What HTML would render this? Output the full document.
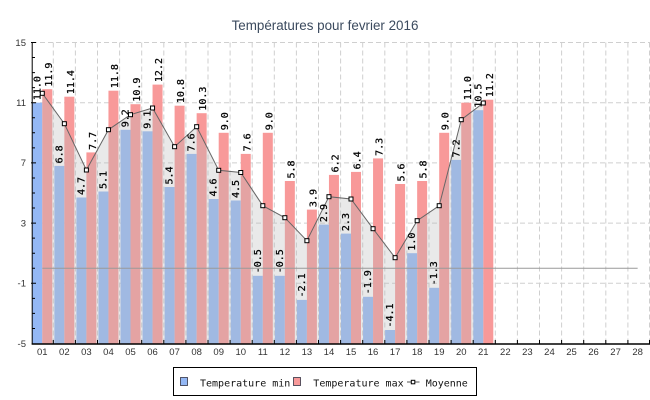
<!DOCTYPE html>
<html><head><meta charset="utf-8"><style>
html,body{margin:0;padding:0;background:#fff;}
svg{display:block;}
.ax{font-family:"Liberation Sans",sans-serif;font-size:9.5px;fill:#333;}
.lb{font-family:"DejaVu Sans Mono","Liberation Mono",monospace;font-size:10px;fill:#000;stroke:#000;stroke-width:0.25;}
.lg{font-family:"DejaVu Sans Mono","Liberation Mono",monospace;font-size:10px;fill:#111;}
</style></head><body>
<svg width="650" height="400" viewBox="0 0 650 400" xmlns="http://www.w3.org/2000/svg">
<rect width="650" height="400" fill="#fff"/>
<text x="325" y="30" text-anchor="middle" font-family="Liberation Sans, sans-serif" font-size="13.4" fill="#3b4a5e">Températures pour fevrier 2016</text>

<!-- grid -->
<g stroke="#cfcfcf" stroke-width="1" stroke-dasharray="5,3" fill="none">
<path d="M32 42.5H650M32 102.7H650M32 162.9H650M32 223.1H650M32 283.3H650"/>
<path d="M53.3 42.5V343.5M75.4 42.5V343.5M97.5 42.5V343.5M119.6 42.5V343.5M141.7 42.5V343.5M163.8 42.5V343.5M185.9 42.5V343.5M208 42.5V343.5M230.1 42.5V343.5M252.2 42.5V343.5M274.3 42.5V343.5M296.4 42.5V343.5M318.5 42.5V343.5M340.6 42.5V343.5M362.7 42.5V343.5M384.8 42.5V343.5M406.9 42.5V343.5M429 42.5V343.5M451.1 42.5V343.5M473.2 42.5V343.5M495.3 42.5V343.5M517.4 42.5V343.5M539.5 42.5V343.5M561.6 42.5V343.5M583.7 42.5V343.5M605.8 42.5V343.5M627.9 42.5V343.5M649.5 42.5V343.5"/>
</g>

<!-- min bars -->
<g fill="#94b8f5">
<rect x="32.3" y="102.7" width="10" height="240.8"/>
<rect x="54.35" y="165.9" width="10" height="177.6"/>
<rect x="76.4" y="197.5" width="10" height="146"/>
<rect x="98.45" y="191.5" width="10" height="152"/>
<rect x="120.5" y="129.8" width="10" height="213.7"/>
<rect x="142.55" y="131.3" width="10" height="212.2"/>
<rect x="164.6" y="187" width="10" height="156.5"/>
<rect x="186.65" y="153.9" width="10" height="189.6"/>
<rect x="208.7" y="199" width="10" height="144.5"/>
<rect x="230.75" y="200.5" width="10" height="143"/>
<rect x="252.8" y="275.8" width="10" height="67.7"/>
<rect x="274.85" y="275.8" width="10" height="67.7"/>
<rect x="296.9" y="299.9" width="10" height="43.6"/>
<rect x="318.95" y="224.6" width="10" height="118.9"/>
<rect x="341" y="233.6" width="10" height="109.9"/>
<rect x="363.05" y="296.8" width="10" height="46.7"/>
<rect x="385.1" y="330" width="10" height="13.5"/>
<rect x="407.15" y="253.2" width="10" height="90.3"/>
<rect x="429.2" y="287.8" width="10" height="55.7"/>
<rect x="451.25" y="159.9" width="10" height="183.6"/>
<rect x="473.3" y="110.2" width="10" height="233.3"/>
</g>
<!-- max bars -->
<g fill="#f89999">
<rect x="42.3" y="89.2" width="10" height="254.3"/>
<rect x="64.35" y="96.7" width="10" height="246.8"/>
<rect x="86.4" y="152.4" width="10" height="191.1"/>
<rect x="108.45" y="90.7" width="10" height="252.8"/>
<rect x="130.5" y="104.2" width="10" height="239.3"/>
<rect x="152.55" y="84.6" width="10" height="258.9"/>
<rect x="174.6" y="105.7" width="10" height="237.8"/>
<rect x="196.65" y="113.2" width="10" height="230.3"/>
<rect x="218.7" y="132.8" width="10" height="210.7"/>
<rect x="240.75" y="153.9" width="10" height="189.6"/>
<rect x="262.8" y="132.8" width="10" height="210.7"/>
<rect x="284.85" y="181" width="10" height="162.5"/>
<rect x="306.9" y="209.6" width="10" height="133.9"/>
<rect x="328.95" y="174.9" width="10" height="168.6"/>
<rect x="351" y="171.9" width="10" height="171.6"/>
<rect x="373.05" y="158.4" width="10" height="185.1"/>
<rect x="395.1" y="184" width="10" height="159.5"/>
<rect x="417.15" y="181" width="10" height="162.5"/>
<rect x="439.2" y="132.8" width="10" height="210.7"/>
<rect x="461.25" y="102.7" width="10" height="240.8"/>
<rect x="483.3" y="99.7" width="10" height="243.8"/>
</g>

<!-- area -->
<polygon fill="rgb(188,188,188)" fill-opacity="0.32" points="42.3,343.5 42.3,93.3 64.35,123.7 86.4,170 108.45,129.7 130.5,114.7 152.55,108 174.6,146.7 196.65,126.7 218.7,170.3 240.75,172.5 262.8,205.7 284.85,217.7 306.9,240.7 328.95,196.7 351,199 373.05,228.7 395.1,257.7 417.15,220.7 439.2,205.7 461.25,119.7 483.3,103 483.3,343.5"/>

<!-- zero line -->
<line x1="42.3" y1="268.25" x2="637.65" y2="268.25" stroke="#999" stroke-width="1"/>

<!-- moyenne line -->
<polyline fill="none" stroke="#666" stroke-width="1" points="42.3,93.3 64.35,123.7 86.4,170 108.45,129.7 130.5,114.7 152.55,108 174.6,146.7 196.65,126.7 218.7,170.3 240.75,172.5 262.8,205.7 284.85,217.7 306.9,240.7 328.95,196.7 351,199 373.05,228.7 395.1,257.7 417.15,220.7 439.2,205.7 461.25,119.7 483.3,103"/>
<g fill="#fff" stroke="#000" stroke-width="1">
<rect x="40.3" y="91.3" width="4" height="4"/>
<rect x="62.35" y="121.7" width="4" height="4"/>
<rect x="84.4" y="168" width="4" height="4"/>
<rect x="106.45" y="127.7" width="4" height="4"/>
<rect x="128.5" y="112.7" width="4" height="4"/>
<rect x="150.55" y="106" width="4" height="4"/>
<rect x="172.6" y="144.7" width="4" height="4"/>
<rect x="194.65" y="124.7" width="4" height="4"/>
<rect x="216.7" y="168.3" width="4" height="4"/>
<rect x="238.75" y="170.5" width="4" height="4"/>
<rect x="260.8" y="203.7" width="4" height="4"/>
<rect x="282.85" y="215.7" width="4" height="4"/>
<rect x="304.9" y="238.7" width="4" height="4"/>
<rect x="326.95" y="194.7" width="4" height="4"/>
<rect x="349" y="197" width="4" height="4"/>
<rect x="371.05" y="226.7" width="4" height="4"/>
<rect x="393.1" y="255.7" width="4" height="4"/>
<rect x="415.15" y="218.7" width="4" height="4"/>
<rect x="437.2" y="203.7" width="4" height="4"/>
<rect x="459.25" y="117.7" width="4" height="4"/>
<rect x="481.3" y="101" width="4" height="4"/>
</g>

<!-- value labels (min) -->
<g class="lb">
<text transform="translate(40.3,100.2) rotate(-90)">11.0</text>
<text transform="translate(62.35,163.4) rotate(-90)">6.8</text>
<text transform="translate(84.4,195) rotate(-90)">4.7</text>
<text transform="translate(106.45,189) rotate(-90)">5.1</text>
<text transform="translate(128.5,127.3) rotate(-90)">9.2</text>
<text transform="translate(150.55,128.8) rotate(-90)">9.1</text>
<text transform="translate(172.6,184.5) rotate(-90)">5.4</text>
<text transform="translate(194.65,151.4) rotate(-90)">7.6</text>
<text transform="translate(216.7,196.5) rotate(-90)">4.6</text>
<text transform="translate(238.75,198) rotate(-90)">4.5</text>
<text transform="translate(260.8,273.3) rotate(-90)">-0.5</text>
<text transform="translate(282.85,273.3) rotate(-90)">-0.5</text>
<text transform="translate(304.9,297.4) rotate(-90)">-2.1</text>
<text transform="translate(326.95,222.1) rotate(-90)">2.9</text>
<text transform="translate(349,231.1) rotate(-90)">2.3</text>
<text transform="translate(371.05,294.3) rotate(-90)">-1.9</text>
<text transform="translate(393.1,327.5) rotate(-90)">-4.1</text>
<text transform="translate(415.15,250.7) rotate(-90)">1.0</text>
<text transform="translate(437.2,285.3) rotate(-90)">-1.3</text>
<text transform="translate(459.25,157.4) rotate(-90)">7.2</text>
<text transform="translate(481.3,107.7) rotate(-90)">10.5</text>
</g>
<!-- value labels (max) -->
<g class="lb">
<text transform="translate(51.8,86.7) rotate(-90)">11.9</text>
<text transform="translate(73.85,94.2) rotate(-90)">11.4</text>
<text transform="translate(95.9,149.9) rotate(-90)">7.7</text>
<text transform="translate(117.95,88.2) rotate(-90)">11.8</text>
<text transform="translate(140,101.7) rotate(-90)">10.9</text>
<text transform="translate(162.05,82.1) rotate(-90)">12.2</text>
<text transform="translate(184.1,103.2) rotate(-90)">10.8</text>
<text transform="translate(206.15,110.7) rotate(-90)">10.3</text>
<text transform="translate(228.2,130.3) rotate(-90)">9.0</text>
<text transform="translate(250.25,151.4) rotate(-90)">7.6</text>
<text transform="translate(272.3,130.3) rotate(-90)">9.0</text>
<text transform="translate(294.35,178.5) rotate(-90)">5.8</text>
<text transform="translate(316.4,207.1) rotate(-90)">3.9</text>
<text transform="translate(338.45,172.4) rotate(-90)">6.2</text>
<text transform="translate(360.5,169.4) rotate(-90)">6.4</text>
<text transform="translate(382.55,155.9) rotate(-90)">7.3</text>
<text transform="translate(404.6,181.5) rotate(-90)">5.6</text>
<text transform="translate(426.65,178.5) rotate(-90)">5.8</text>
<text transform="translate(448.7,130.3) rotate(-90)">9.0</text>
<text transform="translate(470.75,100.2) rotate(-90)">11.0</text>
<text transform="translate(492.8,97.2) rotate(-90)">11.2</text>
</g>

<!-- axes -->
<g stroke="#000" fill="none">
<line x1="32.2" y1="42" x2="32.2" y2="344.5" stroke-width="1"/>
<line x1="31.7" y1="344" x2="650" y2="344" stroke-width="1.5"/>
<path stroke-width="1" d="M32 57.55h3M32 72.6h3M32 87.65h3M32 117.75h3M32 132.8h3M32 147.85h3M32 177.95h3M32 193h3M32 208.05h3M32 238.15h3M32 253.2h3M32 268.25h3M32 298.35h3M32 313.4h3M32 328.45h3"/>
<path stroke-width="1" d="M31 42.5h5M31 102.7h5M31 162.9h5M31 223.1h5M31 283.3h5"/>
<path stroke-width="1" d="M53.3 340V344M75.4 340V344M97.5 340V344M119.6 340V344M141.7 340V344M163.8 340V344M185.9 340V344M208 340V344M230.1 340V344M252.2 340V344M274.3 340V344M296.4 340V344M318.5 340V344M340.6 340V344M362.7 340V344M384.8 340V344M406.9 340V344M429 340V344M451.1 340V344M473.2 340V344M495.3 340V344M517.4 340V344M539.5 340V344M561.6 340V344M583.7 340V344M605.8 340V344M627.9 340V344M649.5 340V344"/>
</g>

<!-- y labels -->
<g class="ax" text-anchor="end" fill="#444">
<text x="26" y="45.8">15</text>
<text x="26" y="106">11</text>
<text x="26" y="166.2">7</text>
<text x="26" y="226.4">3</text>
<text x="26" y="286.6">-1</text>
<text x="26" y="346.8">-5</text>
</g>
<!-- x labels -->
<g class="ax" text-anchor="middle">
<text x="42.3" y="354.8">01</text>
<text x="64.35" y="354.8">02</text>
<text x="86.4" y="354.8">03</text>
<text x="108.45" y="354.8">04</text>
<text x="130.5" y="354.8">05</text>
<text x="152.55" y="354.8">06</text>
<text x="174.6" y="354.8">07</text>
<text x="196.65" y="354.8">08</text>
<text x="218.7" y="354.8">09</text>
<text x="240.75" y="354.8">10</text>
<text x="262.8" y="354.8">11</text>
<text x="284.85" y="354.8">12</text>
<text x="306.9" y="354.8">13</text>
<text x="328.95" y="354.8">14</text>
<text x="351" y="354.8">15</text>
<text x="373.05" y="354.8">16</text>
<text x="395.1" y="354.8">17</text>
<text x="417.15" y="354.8">18</text>
<text x="439.2" y="354.8">19</text>
<text x="461.25" y="354.8">20</text>
<text x="483.3" y="354.8">21</text>
<text x="505.35" y="354.8">22</text>
<text x="527.4" y="354.8">23</text>
<text x="549.45" y="354.8">24</text>
<text x="571.5" y="354.8">25</text>
<text x="593.55" y="354.8">26</text>
<text x="615.6" y="354.8">27</text>
<text x="637.65" y="354.8">28</text>
</g>

<!-- legend -->
<rect x="173.5" y="367.5" width="303" height="28" fill="#fff" stroke="#000" stroke-width="1"/>
<rect x="180.5" y="377.5" width="7" height="8" fill="#94b8f5" stroke="#334" stroke-width="0.8"/>
<text class="lg" x="200" y="386.3">Temperature min</text>
<rect x="293.5" y="377.5" width="7" height="8" fill="#f89999" stroke="#334" stroke-width="0.8"/>
<text class="lg" x="313.3" y="386.3">Temperature max</text>
<line x1="407" y1="382" x2="419.5" y2="382" stroke="#555" stroke-width="1"/>
<rect x="411.3" y="380.3" width="3.5" height="3.5" fill="#fff" stroke="#000" stroke-width="1"/>
<text class="lg" x="425.7" y="386.3">Moyenne</text>
</svg>
</body></html>
